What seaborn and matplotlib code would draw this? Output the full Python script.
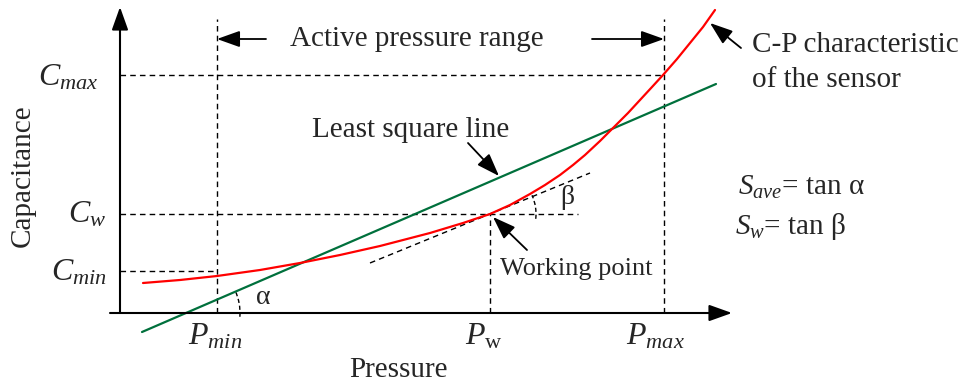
# C-P characteristic of a capacitive pressure sensor
# schematic: sensor curve, least square line and working point tangent

import seaborn as sns
import matplotlib.pyplot as plt
from matplotlib.patches import Arc

# sensor curve (pressure, capacitance)
pressure = [23, 60, 97, 140, 180, 220, 260, 310, 343, 355, 370, 390, 410, 425, 440, 453,
            465, 480, 495, 508, 520, 532, 543, 557, 570, 583, 595]
capacitance = [30, 33, 37, 43, 50, 58, 67, 80, 90, 94, 99, 108, 119, 128, 138, 148,
               158, 172, 187, 200, 213, 226, 238, 254, 270, 286, 303]

# least square line end points
lsq_p = [22, 596]
lsq_c = [-19, 229]

# tangent at the working point
tan_p = [250, 470]
tan_c = [50, 140]

# marked levels
p_min, p_w, p_max = 97, 370, 544
c_min, c_w, c_max = 42, 99, 238

sns.set_style('white')
plt.rcParams['font.family'] = ['Liberation Serif', 'DejaVu Serif']
plt.rcParams['mathtext.fontset'] = 'custom'
plt.rcParams['mathtext.rm'] = 'Liberation Serif'
plt.rcParams['mathtext.it'] = 'Liberation Serif:italic'

fig = plt.figure(figsize=(9.74, 3.85), dpi=100)
ax = fig.add_axes([0, 0, 1, 1])
ax.set_xlim(-120, 854)
ax.set_ylim(-72, 313)
ax.axis('off')

dash = dict(color='black', lw=1.0, ls=(0, (4, 3)))

# axes with arrows
arr = dict(arrowstyle='-|>,head_length=0.7,head_width=0.25', lw=1.5, color='black',
           shrinkA=0, shrinkB=0, mutation_scale=20)
ax.annotate('', xy=(0, 306), xytext=(0, 0), arrowprops=arr)
ax.annotate('', xy=(612, 0), xytext=(-10, 0), arrowprops=arr)

# guide lines
ax.plot([p_min, p_min], [0, 294], **dash)
ax.plot([p_max, p_max], [0, 294], **dash)
ax.plot([p_w, p_w], [0, c_w], **dash)
ax.plot([0, p_max], [c_max, c_max], **dash)
ax.plot([0, 458], [c_w, c_w], **dash)
ax.plot([0, p_min], [c_min, c_min], **dash)
ax.plot(tan_p, tan_c, **dash)

# curves
sns.lineplot(x=lsq_p, y=lsq_c, color='#00703c', lw=1.6, ax=ax)
sns.lineplot(x=pressure, y=capacitance, color='red', lw=1.6, ax=ax,
             solid_joinstyle='round')

# angle arcs
ax.add_patch(Arc((66, 0), 108, 108, theta1=-4, theta2=24, color='black', lw=1.0, ls=(0, (3, 2))))
ax.add_patch(Arc((p_w, c_w), 92, 92, theta1=-6, theta2=24, color='black', lw=1.0, ls=(0, (3, 2))))
ax.text(143, 16, 'α', fontsize=20, ha='center', va='center')
ax.text(447, 116, 'β', fontsize=20, ha='center', va='center')

# pointer arrows
ptr = dict(arrowstyle='-|>,head_length=0.7,head_width=0.25', lw=1.3, color='black',
           shrinkA=0, shrinkB=0, mutation_scale=20)
fs = 21
ax.text(297, 274, 'Active pressure range', fontsize=fs, ha='center', va='center')
ax.annotate('', xy=(p_min, 274), xytext=(146, 274), arrowprops=ptr)
ax.annotate('', xy=(p_max, 274), xytext=(472, 274), arrowprops=ptr)

ax.text(632, 268, 'C-P characteristic', fontsize=fs, ha='left', va='center')
ax.text(632, 233, 'of the sensor', fontsize=fs, ha='left', va='center')
ax.annotate('', xy=(590, 290), xytext=(621, 265), arrowprops=ptr)

ax.text(291, 183, 'Least square line', fontsize=fs, ha='center', va='center')
ax.annotate('', xy=(379, 137), xytext=(348, 170), arrowprops=ptr)

ax.text(380, 44, 'Working point', fontsize=19, ha='left', va='center')
ax.annotate('', xy=(373, 96), xytext=(407, 63), arrowprops=ptr)

ax.text(618, 126, r'$S_{ave}$= tan α', fontsize=fs, ha='left', va='center')
ax.text(615, 86, r'$S_{w}$= tan β', fontsize=fs, ha='left', va='center')

# tick-like labels
lab = 23
ax.text(-22, 235, r'$C_{max}$', fontsize=lab, ha='right', va='center')
ax.text(-14, 98, r'$C_{w}$', fontsize=lab, ha='right', va='center')
ax.text(-13, 40, r'$C_{min}$', fontsize=lab, ha='right', va='center')
ax.text(95, -24, r'$P_{min}$', fontsize=lab, ha='center', va='center')
ax.text(364, -24, r'$P_{\mathrm{w}}$', fontsize=lab, ha='center', va='center')
ax.text(535, -24, r'$P_{max}$', fontsize=lab, ha='center', va='center')

ax.text(278, -57, 'Pressure', fontsize=fs, ha='center', va='center')
ax.text(-97, 137, 'Capacitance', fontsize=fs, ha='center', va='center', rotation=90)

plt.savefig('out.png', dpi=100)
